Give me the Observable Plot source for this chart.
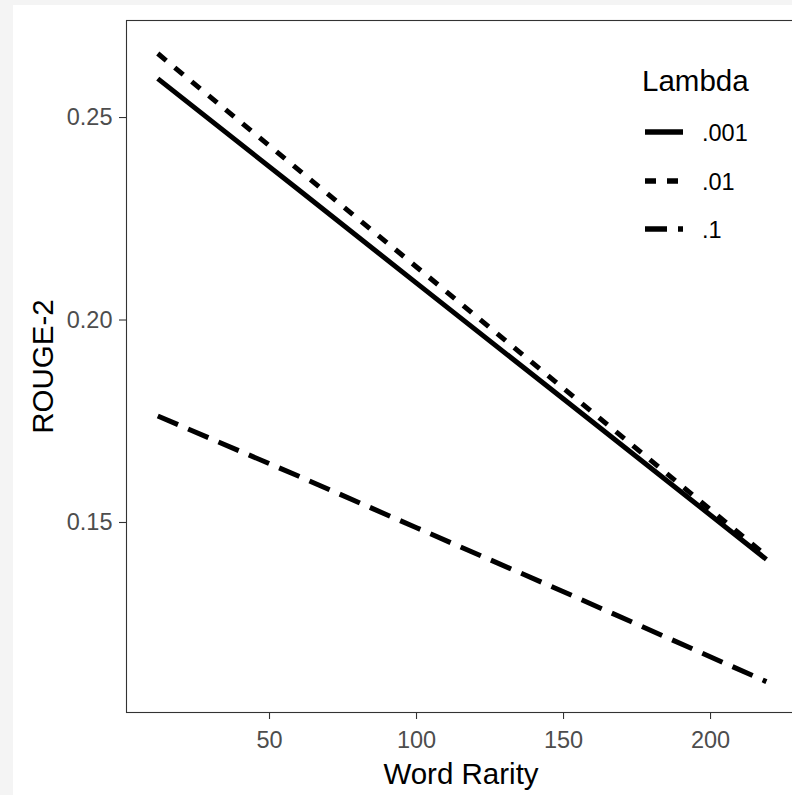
<!DOCTYPE html>
<html>
<head>
<meta charset="utf-8">
<script src="https://cdn.jsdelivr.net/npm/d3@7"></script>
<script src="https://cdn.jsdelivr.net/npm/@observablehq/plot@0.6"></script>
<style>
  html, body { margin: 0; padding: 0; }
  body { width: 792px; height: 795px; overflow: hidden; background: #f4f4f4; position: relative; font-family: "Liberation Sans", Arial, Helvetica, sans-serif; }
  #white { position: absolute; left: 13px; top: 5px; right: 0; bottom: 0; background: #ffffff; }
  #chart { position: absolute; left: 0; top: 0; }
</style>
</head>
<body>
<div id="white"></div>
<div id="chart"></div>
<script>
// ---- data ----
const lambdas = [".001", ".01", ".1"];
const rarity = [12, 60, 100, 150, 219];
const rouge001 = [0.2596, 0.2321, 0.2091, 0.1805, 0.1409];
const rouge01  = [0.2658, 0.2370, 0.2131, 0.1831, 0.1418];
const rouge1   = [0.1763, 0.1614, 0.1487, 0.1329, 0.1107];
const xTicks = [50, 100, 150, 200];
const xTickLabels = ["50", "100", "150", "200"];
const yTicks = [0.15, 0.20, 0.25];
const yTickLabels = ["0.15", "0.20", "0.25"];
const xTitle = "Word Rarity";
const yTitle = "ROUGE-2";
const legendTitle = "Lambda";

// ---- build table ----
const seriesValues = [rouge001, rouge01, rouge1];
const rows = [];
lambdas.forEach((lam, i) => {
  rarity.forEach((r, j) => rows.push({lambda: lam, rarity: r, rouge: seriesValues[i][j]}));
});

const dashStyle = {".001": null, ".01": "11,11", ".1": "22,11"};
const lineW = 5;
const font = "Liberation Sans, Arial, Helvetica, sans-serif";

const lineMarks = lambdas.map(lam =>
  Plot.line(rows.filter(d => d.lambda === lam), {
    x: "rarity", y: "rouge", stroke: "#000", strokeWidth: lineW,
    strokeLinecap: "butt", strokeLinejoin: "round",
    ...(dashStyle[lam] ? {strokeDasharray: dashStyle[lam]} : {})
  })
);

const svg = Plot.plot({
  width: 800, height: 795,
  marginLeft: 126, marginRight: 5, marginTop: 20, marginBottom: 83,
  x: {domain: [1.36, 228.9], label: null},
  y: {domain: [0.10308, 0.27396], label: null},
  style: {background: "transparent", fontFamily: font, maxWidth: "none", overflow: "visible"},
  marks: [
    Plot.frame({stroke: "#333333", strokeWidth: 1.1}),
    ...lineMarks,
    Plot.axisX({ticks: xTicks, tickFormat: d => xTickLabels[xTicks.indexOf(d)], tickSize: 7, tickPadding: 12,
      fontSize: 23.5, fill: "#4d4d4d", stroke: "#333333", strokeWidth: 1.1, label: null}),
    Plot.axisY({ticks: yTicks, tickFormat: d => yTickLabels[yTicks.findIndex(t => Math.abs(t - d) < 1e-9)], tickSize: 7, tickPadding: 7,
      fontSize: 23.5, fill: "#4d4d4d", stroke: "#333333", strokeWidth: 1.1, label: null}),
    Plot.text([xTitle], {frameAnchor: "bottom", text: d => d, textAnchor: "middle", lineAnchor: "middle",
      dy: 61.6, fontSize: 29.5, fill: "#000"}),
    Plot.text([yTitle], {frameAnchor: "left", text: d => d, textAnchor: "middle", lineAnchor: "middle",
      rotate: -90, dx: -83.4, fontSize: 29.5, fill: "#000"})
  ]
});
document.getElementById("chart").appendChild(svg);

// ---- legend (inside the plot, top right) ----
const lg = d3.select(svg).append("g").attr("font-family", font).attr("text-anchor", "start");
lg.append("text").attr("x", 642).attr("y", 91).attr("font-size", 29.5).attr("fill", "#000")
  .attr("text-anchor", "start").text(legendTitle);
const keyY = [132, 181, 229];
lambdas.forEach((lam, i) => {
  const ln = lg.append("line").attr("x1", 645).attr("x2", 683).attr("y1", keyY[i]).attr("y2", keyY[i])
    .attr("stroke", "#000").attr("stroke-width", lineW + 0.5).attr("stroke-linecap", "butt");
  if (dashStyle[lam]) ln.attr("stroke-dasharray", dashStyle[lam]);
  lg.append("text").attr("x", 702).attr("y", keyY[i] + 9).attr("font-size", 23.5).attr("fill", "#000")
    .attr("text-anchor", "start").text(lam);
});
</script>
</body>
</html>
